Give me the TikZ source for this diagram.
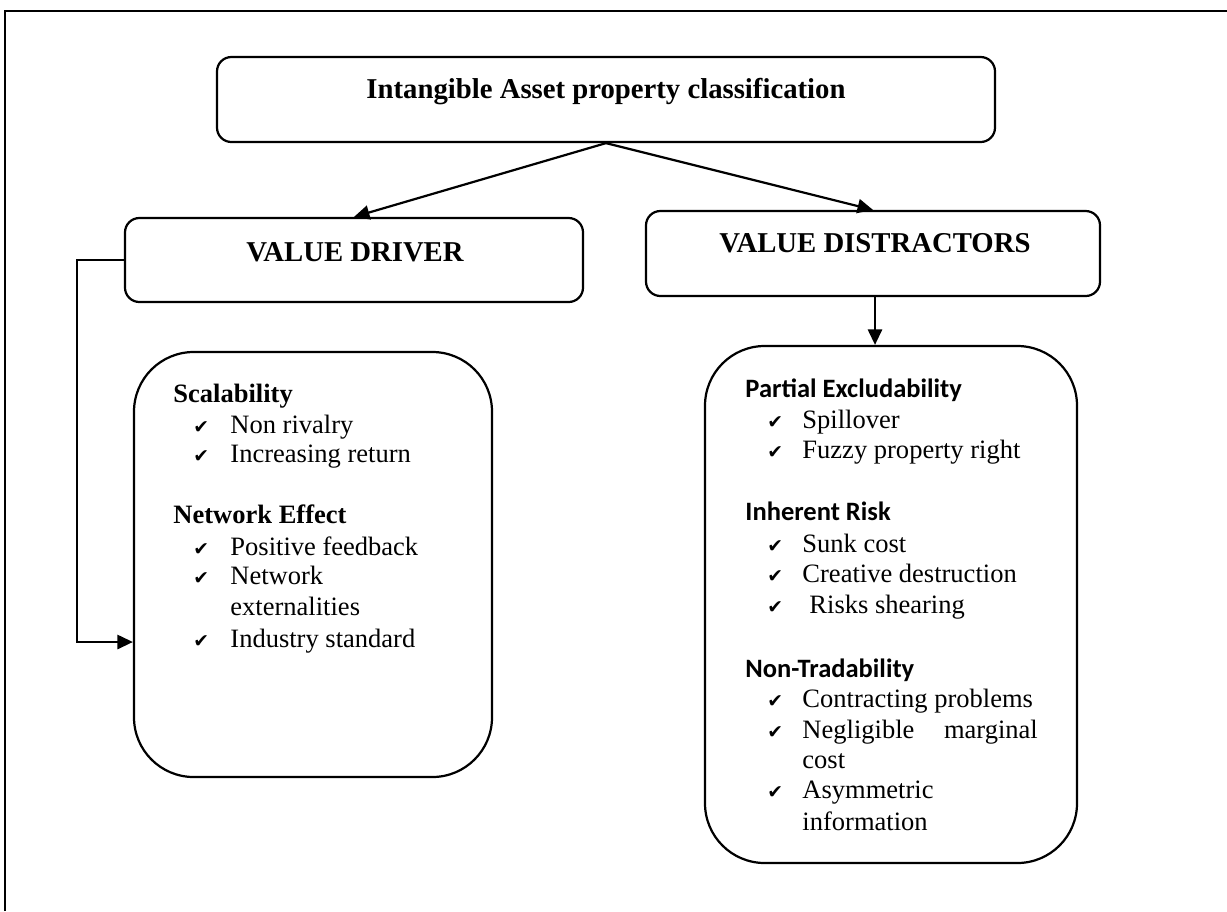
\documentclass[tikz,border=0pt]{standalone}
\usepackage{fontspec}
\setmainfont{Liberation Serif}
\newfontfamily\calib{Carlito}
\newfontfamily\djv{DejaVu Sans}
\usetikzlibrary{arrows.meta,fit}
\tikzset{
  box/.style={draw, line width=1pt, rounded corners=6.5pt, inner sep=0pt},
  bigbox/.style={draw, line width=1pt, rounded corners=27pt, inner sep=0pt},
  arr/.style={line width=1pt, -{Triangle[length=7pt,width=6.4pt]}},
  frame/.style={line width=1.3pt},
  ttl/.style={inner sep=0pt, font=\fontsize{13}{15}\selectfont\bfseries},
  hdr/.style={anchor=mid west, inner sep=0pt, font=\fontsize{12}{14}\selectfont\bfseries},
  chdr/.style={anchor=mid west, inner sep=0pt, font=\calib\fontsize{12}{14}\selectfont\bfseries},
  item/.style={anchor=mid west, inner sep=0pt, font=\fontsize{12}{14}\selectfont},
  chk/.style={anchor=mid west, inner sep=0pt, font=\djv\fontsize{8.5}{10}\selectfont}
}
\begin{document}
\begin{tikzpicture}[x=0.4525pt,y=-0.4525pt]
\useasboundingbox (0,0) rectangle (1227,911);
% outer frame
\draw[frame] (5,911) -- (5,11) -- (1227,11);

% boxes
\node[box, fit={(217,57) (995,142)}] (title) {};
\node[box, fit={(125,218) (583,302)}] (vdriver) {};
\node[box, fit={(646,211) (1100,296)}] (vdist) {};
\node[bigbox, fit={(134,352) (492,777)}] (lbox) {};
\node[bigbox, fit={(705,346) (1077,863)}] (rbox) {};

% box titles
\node[ttl] (titletext) at (606,92) {Intangible Asset property classification};
\node[ttl] (vdrivertext) at (355,252) {VALUE DRIVER};
\node[ttl] (vdisttext) at (875,243) {VALUE DISTRACTORS};

% connectors
\coordinate (elbow) at (77,642);
\draw[arr] (title.south) -- (vdriver.north);
\draw[arr] (title.south) -- (vdist.north);
\draw[arr] (vdriver.west) -| (elbow) -- (elbow -| lbox.west);
\draw[arr] (vdist.south -| 875,0) -- (rbox.north -| 875,0);

% left box content
\node[hdr] (h1) at (173,397) {Scalability};
\node[chk] (c11) at (193,428) {✔}; \node[item] (i11) at (230,428) {Non rivalry};
\node[chk] (c12) at (193,457) {✔}; \node[item] (i12) at (230,457) {Increasing return};
\node[hdr] (h2) at (173,518) {Network Effect};
\node[chk] (c21) at (193,550) {✔}; \node[item] (i21) at (230,550) {Positive feedback};
\node[chk] (c22) at (193,579) {✔}; \node[item] (i22) at (230,579) {Network};
\node[item] (i22b) at (230,610) {externalities};
\node[chk] (c23) at (193,642) {✔}; \node[item] (i23) at (230,642) {Industry standard};

% right box content
\node[chdr] (h3) at (745,392) {Partial Excludability};
\node[chk] (c31) at (767,423) {✔}; \node[item] (i31) at (802,423) {Spillover};
\node[chk] (c32) at (767,453) {✔}; \node[item] (i32) at (802,453) {Fuzzy property right};
\node[chdr] (h4) at (745,515) {Inherent Risk};
\node[chk] (c41) at (767,547) {✔}; \node[item] (i41) at (802,547) {Sunk cost};
\node[chk] (c42) at (767,577) {✔}; \node[item] (i42) at (802,577) {Creative destruction};
\node[chk] (c43) at (767,608) {✔}; \node[item] (i43) at (809,608) {Risks shearing};
\node[chdr] (h5) at (745,672) {Non-Tradability};
\node[chk] (c51) at (767,702) {✔}; \node[item] (i51) at (802,702) {Contracting problems};
\node[chk] (c52) at (767,733) {✔}; \node[item] (i52) at (802,733) {\hbox to 106.5pt{Negligible\hfill marginal}};
\node[item] (i52b) at (802,763) {cost};
\node[chk] (c53) at (767,793) {✔}; \node[item] (i53) at (802,793) {Asymmetric};
\node[item] (i53b) at (802,825) {information};
\end{tikzpicture}
\end{document}
